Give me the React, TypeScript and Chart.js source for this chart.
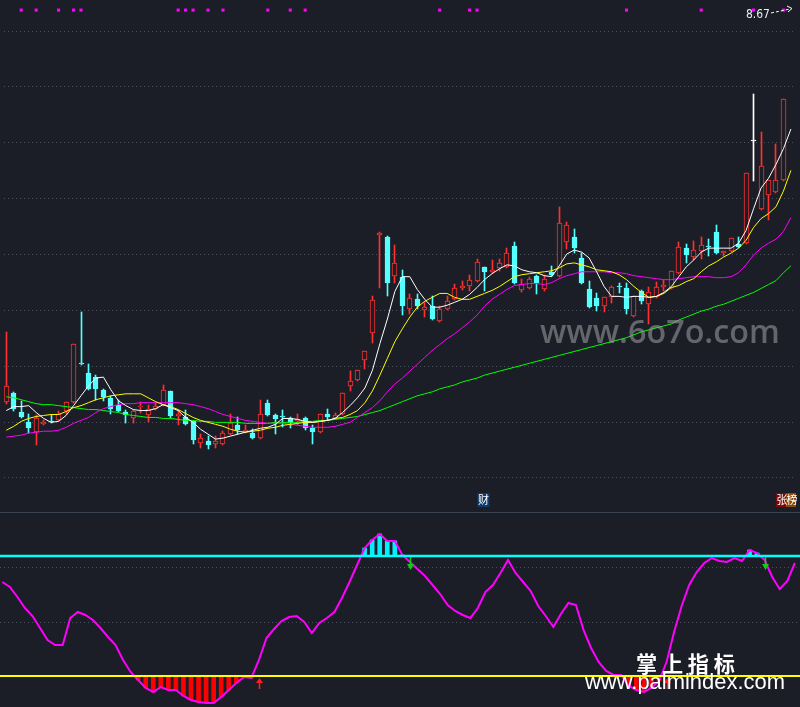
import React, { useEffect, useRef } from 'react';
import { Chart, registerables } from 'chart.js';

Chart.register(...registerables);

const BG = '#1b1e26';
const RED = '#ff3030';
const CYAN = '#54ffff';
const DOJI = '#ffffff';

// ---- price panel data (one entry per trading day) ----
const opens = [5.54,5.63,5.44,5.33,5.23,5.31,5.34,5.35,5.45,5.54,5.93,5.83,5.79,5.66,5.58,5.51,5.44,5.37,5.49,5.40,5.47,5.51,5.65,5.39,5.38,5.34,5.12,5.14,5.11,5.11,5.21,5.30,5.23,5.22,5.17,5.53,5.40,5.39,5.37,5.34,5.37,5.27,5.23,5.42,5.37,5.41,5.70,5.76,5.96,6.24,7.23,7.21,6.82,6.81,6.48,6.58,6.47,6.51,6.36,6.48,6.58,6.70,6.72,6.77,6.91,6.86,6.90,6.91,7.12,6.67,6.70,6.82,6.68,6.86,6.82,7.16,7.21,7.00,6.68,6.59,6.51,6.60,6.72,6.70,6.41,6.66,6.53,6.60,6.71,6.70,6.85,7.10,7.01,7.07,7.12,7.26,7.05,7.07,7.14,7.15,8.19,7.50,7.64,7.67,7.79];
const closes = [5.70,5.47,5.38,5.27,5.37,5.33,5.33,5.41,5.54,6.13,5.92,5.67,5.67,5.59,5.47,5.45,5.40,5.45,5.50,5.47,5.50,5.66,5.39,5.41,5.31,5.15,5.17,5.10,5.14,5.22,5.32,5.25,5.25,5.17,5.41,5.40,5.36,5.38,5.32,5.36,5.27,5.23,5.41,5.38,5.40,5.63,5.75,5.86,6.06,6.57,7.25,6.75,6.95,6.51,6.59,6.51,6.50,6.38,6.48,6.56,6.70,6.72,6.78,6.96,6.86,6.88,6.95,7.05,6.75,6.74,6.79,6.75,6.79,6.83,7.36,7.33,7.10,6.75,6.50,6.51,6.60,6.71,6.71,6.48,6.61,6.56,6.65,6.71,6.73,6.87,7.11,7.03,7.08,7.13,7.11,7.05,7.07,7.20,7.11,7.86,8.19,7.93,7.79,7.79,8.61];
const highs = [6.25,5.64,5.55,5.42,5.40,5.35,5.40,5.45,5.54,6.13,6.45,5.92,5.81,5.67,5.60,5.56,5.46,5.46,5.54,5.51,5.53,5.71,5.65,5.46,5.46,5.34,5.21,5.19,5.19,5.24,5.41,5.38,5.30,5.26,5.56,5.56,5.42,5.46,5.38,5.41,5.38,5.30,5.42,5.47,5.43,5.63,5.85,5.86,6.06,6.61,7.26,7.22,7.13,6.88,6.63,6.63,6.55,6.61,6.51,6.61,6.74,6.77,6.83,6.99,6.91,6.98,6.99,7.10,7.16,6.79,6.81,6.83,6.83,6.92,7.52,7.37,7.29,7.05,6.77,6.64,6.60,6.72,6.75,6.75,6.61,6.67,6.71,6.76,6.78,6.87,7.16,7.14,7.17,7.21,7.19,7.33,7.07,7.20,7.21,7.86,8.67,8.28,7.79,8.16,8.61];
const lows = [5.52,5.45,5.37,5.22,5.10,5.30,5.32,5.34,5.41,5.54,5.91,5.67,5.56,5.55,5.41,5.44,5.32,5.32,5.43,5.33,5.46,5.51,5.37,5.30,5.31,5.11,5.07,5.06,5.07,5.11,5.21,5.21,5.22,5.17,5.17,5.40,5.21,5.28,5.27,5.30,5.25,5.11,5.22,5.35,5.37,5.41,5.65,5.75,5.87,6.14,6.70,6.61,6.75,6.42,6.43,6.48,6.40,6.37,6.36,6.48,6.58,6.67,6.66,6.77,6.66,6.85,6.87,6.91,6.74,6.65,6.69,6.63,6.66,6.82,6.82,7.09,7.05,6.74,6.50,6.46,6.45,6.54,6.64,6.43,6.41,6.53,6.33,6.60,6.66,6.70,6.85,6.95,6.98,6.99,7.02,7.04,7.02,7.07,7.11,7.15,7.78,7.50,7.39,7.67,7.79];

// moving averages (106 points, the last one is the day after the last visible candle)
const ma5 = [5.45,5.49,5.49,5.50,5.43,5.37,5.33,5.34,5.40,5.50,5.60,5.70,5.78,5.79,5.66,5.55,5.50,5.46,5.45,5.45,5.47,5.51,5.48,5.45,5.38,5.33,5.26,5.21,5.16,5.17,5.19,5.21,5.23,5.25,5.27,5.28,5.31,5.37,5.37,5.36,5.34,5.33,5.34,5.35,5.37,5.43,5.50,5.58,5.68,5.86,6.13,6.38,6.66,6.81,6.81,6.68,6.58,6.50,6.50,6.52,6.55,6.58,6.63,6.70,6.78,6.84,6.89,6.93,6.92,6.88,6.86,6.85,6.82,6.81,6.92,7.04,7.08,7.06,7.00,6.86,6.71,6.61,6.61,6.60,6.61,6.61,6.60,6.61,6.65,6.71,6.81,6.91,6.98,7.06,7.10,7.10,7.10,7.10,7.15,7.28,7.50,7.71,7.81,7.95,8.11,8.31];
const ma10 = [5.25,5.29,5.34,5.37,5.39,5.40,5.41,5.41,5.44,5.48,5.50,5.53,5.56,5.58,5.60,5.61,5.62,5.62,5.62,5.58,5.54,5.51,5.49,5.46,5.42,5.38,5.35,5.33,5.31,5.29,5.26,5.24,5.23,5.24,5.25,5.27,5.28,5.30,5.31,5.32,5.33,5.33,5.34,5.35,5.37,5.38,5.41,5.45,5.53,5.65,5.81,5.98,6.15,6.28,6.40,6.50,6.56,6.60,6.64,6.64,6.60,6.58,6.58,6.61,6.64,6.67,6.71,6.76,6.81,6.83,6.84,6.85,6.86,6.87,6.90,6.94,6.95,6.93,6.91,6.88,6.87,6.86,6.83,6.78,6.71,6.65,6.60,6.61,6.64,6.70,6.72,6.76,6.79,6.86,6.92,6.96,7.01,7.05,7.10,7.18,7.31,7.40,7.45,7.52,7.68,7.89];
const ma20 = [5.18,5.19,5.20,5.22,5.23,5.24,5.24,5.25,5.28,5.32,5.35,5.38,5.43,5.47,5.49,5.51,5.52,5.52,5.53,5.53,5.53,5.53,5.53,5.53,5.52,5.51,5.49,5.47,5.44,5.41,5.39,5.37,5.35,5.34,5.33,5.32,5.32,5.32,5.31,5.30,5.29,5.28,5.28,5.28,5.29,5.31,5.33,5.38,5.43,5.48,5.55,5.64,5.72,5.78,5.85,5.92,5.99,6.06,6.12,6.18,6.23,6.29,6.35,6.42,6.51,6.58,6.63,6.68,6.72,6.73,6.74,6.74,6.73,6.75,6.79,6.82,6.84,6.86,6.86,6.86,6.86,6.85,6.85,6.84,6.82,6.81,6.80,6.79,6.78,6.78,6.79,6.80,6.81,6.81,6.81,6.80,6.80,6.81,6.85,6.93,7.03,7.10,7.15,7.19,7.27,7.41];
const ma60 = [5.59,5.58,5.56,5.54,5.52,5.51,5.51,5.50,5.49,5.48,5.47,5.46,5.46,5.45,5.44,5.43,5.41,5.40,5.39,5.38,5.38,5.37,5.37,5.36,5.35,5.35,5.34,5.34,5.33,5.33,5.33,5.33,5.32,5.32,5.32,5.32,5.33,5.33,5.33,5.33,5.34,5.34,5.35,5.35,5.36,5.37,5.38,5.39,5.41,5.43,5.45,5.48,5.51,5.54,5.57,5.60,5.62,5.64,5.67,5.69,5.71,5.74,5.76,5.78,5.81,5.83,5.85,5.87,5.89,5.91,5.93,5.95,5.97,5.99,6.01,6.03,6.05,6.07,6.09,6.11,6.13,6.15,6.17,6.19,6.22,6.25,6.27,6.29,6.31,6.33,6.37,6.40,6.43,6.46,6.48,6.51,6.53,6.56,6.59,6.62,6.65,6.69,6.73,6.77,6.85,6.92];

// days flagged with the magenta marker along the top edge
const signalDays = [2,4,7,9,10,23,24,25,27,29,35,38,40,58,62,63,83,93,100,104];
const maxPriceLabel = '8.67';
const reportDay = 64;

// ---- indicator panel data ----
const osc = [67,64.5,59.5,54,50,44,38,35.5,35.5,49,52,50.5,48,44,39.5,35.5,28,22,18,14,12,14.5,13,13,10,8,7,6.5,6.5,9.5,13,16.5,19.5,19,28,39,43.5,47.5,49.5,50,47,41.5,46.5,49,52,59,67,75.5,84,88,91,87.5,87.5,80.5,77,73.5,70,65.5,61,55.5,52.5,50.5,49,54,62,65.5,71.5,78,71.5,67,62.5,55,50,44.5,51,56.5,55.5,43,34,27,22.5,20.5,20.5,15,13,12,14,17.5,27,42,55,65.5,72,76.5,79,77.5,77,79,77.5,83,81.5,78,69.5,63.5,67.5,76.5];
const upperLevel = 80;
const lowerLevel = 20;
const buyDays = [34, 88];
const sellDays = [54, 101];

// axis ranges
const X_MIN = -0.305;
const X_MAX = 105.68;
const PRICE_MIN = 4.46;
const PRICE_MAX = 9.58;
const OSC_MIN = 4.5;
const OSC_MAX = 102;
const priceGrid = [9.31, 8.7425, 8.175, 7.6075, 7.04, 6.4725, 5.905, 5.3375, 4.77];
const oscGrid = [74.5, 47];

const idx = opens.map((_, i) => i);
const colorOf = (i: number) => (closes[i] > opens[i] ? RED : closes[i] < opens[i] ? CYAN : DOJI);

function fitFont(ctx: CanvasRenderingContext2D, text: string, weight: string, family: string, width: number) {
  ctx.font = `${weight} 20px ${family}`;
  const w = ctx.measureText(text).width;
  const size = (20 * width) / w;
  ctx.font = `${weight} ${size}px ${family}`;
  return size;
}

function dottedGrid(chart: any, levels: number[]) {
  const { ctx, chartArea, scales } = chart;
  ctx.save();
  ctx.strokeStyle = '#4a505c';
  ctx.lineWidth = 1;
  ctx.setLineDash([1, 3]);
  levels.forEach((v) => {
    const y = Math.round(scales.y.getPixelForValue(v)) + 0.5;
    ctx.beginPath();
    ctx.moveTo(chartArea.left, y);
    ctx.lineTo(chartArea.right, y);
    ctx.stroke();
  });
  ctx.restore();
}

// snap bar elements to the pixel grid so candle outlines and wicks stay crisp
function snapBars(chart: any) {
  chart.data.datasets.forEach((_: any, di: number) => {
    const meta = chart.getDatasetMeta(di);
    if (meta.type !== 'bar') return;
    meta.data.forEach((el: any) => {
      el.x = Math.floor(el.x) + 0.5;
      const top = Math.round(el.y);
      let base = Math.round(el.base);
      if (Math.abs(base - top) < 1) base = top + 1;
      el.y = top;
      el.base = base;
      el.height = base - top;
    });
  });
}

const mainOverlay = {
  id: 'mainOverlay',
  beforeDatasetsDraw(chart: any) {
    dottedGrid(chart, priceGrid);
    snapBars(chart);
  },
  afterDatasetsDraw(chart: any) {
    const { ctx, chartArea, scales } = chart;
    ctx.save();
    // watermark
    fitFont(ctx, 'www.6o7o.com', '600', '"Open Sans", sans-serif', 240);
    ctx.fillStyle = 'rgba(150,150,155,0.6)';
    ctx.textBaseline = 'alphabetic';
    ctx.textAlign = 'left';
    ctx.fillText('www.6o7o.com', 540, 343);

    // max price label
    fitFont(ctx, maxPriceLabel, '', '"DejaVu Sans Condensed", "DejaVu Sans", sans-serif', 24);
    ctx.fillStyle = '#e8eef8';
    ctx.textBaseline = 'middle';
    ctx.fillText(maxPriceLabel, chartArea.right - 50, 15);
    ctx.strokeStyle = '#ffffff';
    ctx.lineWidth = 1;
    ctx.setLineDash([3, 2]);
    ctx.beginPath();
    ctx.moveTo(chartArea.right - 25, 13);
    ctx.lineTo(chartArea.right - 6, 9);
    ctx.stroke();
    ctx.setLineDash([]);
    ctx.beginPath();
    ctx.moveTo(chartArea.right - 4, 8.5);
    ctx.lineTo(chartArea.right - 9, 6);
    ctx.moveTo(chartArea.right - 4, 8.5);
    ctx.lineTo(chartArea.right - 8, 12);
    ctx.stroke();

    // event tags at the bottom of the price panel
    ctx.font = '11px "Noto Sans CJK SC", sans-serif';
    ctx.textAlign = 'center';
    ctx.textBaseline = 'middle';
    const rx = scales.x.getPixelForValue(reportDay) - 1;
    ctx.fillStyle = '#0f3a6a';
    ctx.fillRect(rx - 6, chartArea.bottom - 15, 12, 14);
    ctx.fillStyle = '#ffffff';
    ctx.fillText('财', rx, chartArea.bottom - 8);
    ctx.fillStyle = '#7a0a0a';
    ctx.fillRect(chartArea.right - 20, chartArea.bottom - 15, 10, 14);
    ctx.fillStyle = '#8a4a06';
    ctx.fillRect(chartArea.right - 10, chartArea.bottom - 15, 10, 14);
    ctx.fillStyle = '#ffffff';
    ctx.fillText('张', chartArea.right - 14, chartArea.bottom - 8);
    ctx.fillText('榜', chartArea.right - 4, chartArea.bottom - 8);
    ctx.restore();
  },
};

const lowerOverlay = {
  id: 'lowerOverlay',
  beforeDatasetsDraw(chart: any) {
    const { ctx, chartArea } = chart;
    dottedGrid(chart, oscGrid);
    ctx.save();
    ctx.strokeStyle = '#3c4350';
    ctx.lineWidth = 1;
    ctx.beginPath();
    ctx.moveTo(chartArea.left, 0.5);
    ctx.lineTo(chartArea.right, 0.5);
    ctx.stroke();
    ctx.restore();
  },
  afterDatasetsDraw(chart: any) {
    const { ctx, scales } = chart;
    ctx.save();
    buyDays.forEach((d) => {
      const x = Math.round(scales.x.getPixelForValue(d)) + 0.5;
      const tip = scales.y.getPixelForValue(lowerLevel - 1);
      const end = scales.y.getPixelForValue(lowerLevel - 6.5);
      ctx.strokeStyle = '#ff2020';
      ctx.fillStyle = '#ff2020';
      ctx.lineWidth = 1.5;
      ctx.beginPath();
      ctx.moveTo(x, tip + 4);
      ctx.lineTo(x, end);
      ctx.stroke();
      ctx.beginPath();
      ctx.moveTo(x, tip);
      ctx.lineTo(x - 3.5, tip + 5);
      ctx.lineTo(x + 3.5, tip + 5);
      ctx.closePath();
      ctx.fill();
    });
    sellDays.forEach((d) => {
      const x = Math.round(scales.x.getPixelForValue(d)) + 0.5;
      const start = scales.y.getPixelForValue(upperLevel - 0.5);
      const tip = scales.y.getPixelForValue(upperLevel - 7);
      ctx.strokeStyle = '#18c818';
      ctx.fillStyle = '#18c818';
      ctx.lineWidth = 1.5;
      ctx.beginPath();
      ctx.moveTo(x, start);
      ctx.lineTo(x, tip - 4);
      ctx.stroke();
      ctx.beginPath();
      ctx.moveTo(x, tip);
      ctx.lineTo(x - 3.5, tip - 6);
      ctx.lineTo(x + 3.5, tip - 6);
      ctx.closePath();
      ctx.fill();
    });
    // watermark
    ctx.fillStyle = '#ffffff';
    ctx.textAlign = 'left';
    ctx.textBaseline = 'alphabetic';
    fitFont(ctx, '掌 上 指 标', 'bold', '"Noto Sans CJK SC", sans-serif', 99);
    ctx.fillText('掌 上 指 标', 636, 672 - 512);
    fitFont(ctx, 'www.palmindex.com', '', '"Liberation Sans", Arial, sans-serif', 200);
    ctx.fillText('www.palmindex.com', 585, 689 - 512);
    ctx.restore();
  },
};

const baseOptions = (yMin: number, yMax: number) => ({
  responsive: false,
  animation: false as const,
  devicePixelRatio: 1,
  layout: { padding: 0 },
  plugins: { legend: { display: false }, tooltip: { enabled: false } },
  scales: {
    x: { type: 'linear' as const, min: X_MIN, max: X_MAX, offset: false, display: false },
    y: { type: 'linear' as const, min: yMin, max: yMax, offset: false, display: false },
  },
});

function lineSet(values: number[], color: string, width: number, order: number) {
  return {
    type: 'line' as const,
    data: values.map((v, i) => ({ x: i, y: v })),
    borderColor: color,
    borderWidth: width,
    pointRadius: 0,
    tension: 0,
    fill: false,
    order,
  };
}

export default function App() {
  const mainRef = useRef<HTMLCanvasElement>(null);
  const lowRef = useRef<HTMLCanvasElement>(null);

  useEffect(() => {
    document.body.style.margin = '0';
    document.body.style.background = BG;

    const bodies = idx.map((i) => {
      const lo = Math.min(opens[i], closes[i]);
      const hi = Math.max(opens[i], closes[i]);
      if (hi - lo < 0.01) {
        const m = (hi + lo) / 2;
        return { x: i, y: [m - 0.005, m + 0.005] };
      }
      return { x: i, y: [lo, hi] };
    });
    const upperWicks = idx.map((i) => ({ x: i, y: [Math.max(opens[i], closes[i]), highs[i]] }));
    const lowerWicks = idx.map((i) => ({ x: i, y: [lows[i], Math.min(opens[i], closes[i])] }));
    const colors = idx.map(colorOf);
    const fills = idx.map((i) => (colorOf(i) === RED ? BG : colorOf(i)));

    const main = new Chart(mainRef.current!, {
      type: 'bar',
      data: {
        datasets: [
          lineSet(ma5, '#ffffff', 1, 1),
          lineSet(ma10, '#ffff00', 1, 1),
          lineSet(ma20, '#ff00ff', 1, 1),
          lineSet(ma60, '#00ff00', 1, 1),
          {
            type: 'line',
            data: signalDays.map((d) => ({ x: d, y: 9.518 })),
            showLine: false,
            pointStyle: 'rect',
            pointRadius: 2.2,
            pointBackgroundColor: '#ff00ff',
            pointBorderWidth: 0,
            order: 1,
          } as any,
          {
            type: 'bar',
            data: bodies as any,
            backgroundColor: fills,
            borderColor: colors,
            borderWidth: 1,
            borderSkipped: false,
            barThickness: 5,
            grouped: false,
            order: 2,
          } as any,
          {
            type: 'bar',
            data: upperWicks as any,
            backgroundColor: colors,
            borderWidth: 0,
            barThickness: 1,
            grouped: false,
            order: 3,
          } as any,
          {
            type: 'bar',
            data: lowerWicks as any,
            backgroundColor: colors,
            borderWidth: 0,
            barThickness: 1,
            grouped: false,
            order: 3,
          } as any,
        ],
      },
      options: baseOptions(PRICE_MIN, PRICE_MAX) as any,
      plugins: [mainOverlay],
    });

    const oscIdx = osc.map((_, i) => i);
    const highFill = oscIdx.filter((i) => osc[i] > upperLevel).map((i) => ({ x: i, y: [upperLevel, osc[i]] }));
    const lowFill = oscIdx.filter((i) => osc[i] < lowerLevel).map((i) => ({ x: i, y: [osc[i], lowerLevel] }));

    const low = new Chart(lowRef.current!, {
      type: 'bar',
      data: {
        datasets: [
          {
            type: 'line',
            data: [{ x: X_MIN, y: upperLevel }, { x: X_MAX, y: upperLevel }],
            borderColor: '#00ffff',
            borderWidth: 2.5,
            pointRadius: 0,
            order: 1,
          } as any,
          {
            type: 'line',
            data: [{ x: X_MIN, y: lowerLevel }, { x: X_MAX, y: lowerLevel }],
            borderColor: '#ffff00',
            borderWidth: 2,
            pointRadius: 0,
            order: 1,
          } as any,
          lineSet(osc, '#ff00ff', 2, 2),
          {
            type: 'bar',
            data: highFill as any,
            backgroundColor: '#00f0ff',
            borderWidth: 0,
            barThickness: 4,
            grouped: false,
            order: 3,
          } as any,
          {
            type: 'bar',
            data: lowFill as any,
            backgroundColor: '#ff0000',
            borderWidth: 0,
            barThickness: 4,
            grouped: false,
            order: 3,
          } as any,
        ],
      },
      options: baseOptions(OSC_MIN, OSC_MAX) as any,
      plugins: [lowerOverlay],
    });

    return () => {
      main.destroy();
      low.destroy();
    };
  }, []);

  return (
    <div style={{ width: 800, height: 707, background: BG, overflow: 'hidden' }}>
      <canvas ref={mainRef} width={800} height={512} style={{ display: 'block' }} />
      <canvas ref={lowRef} width={800} height={195} style={{ display: 'block' }} />
    </div>
  );
}
